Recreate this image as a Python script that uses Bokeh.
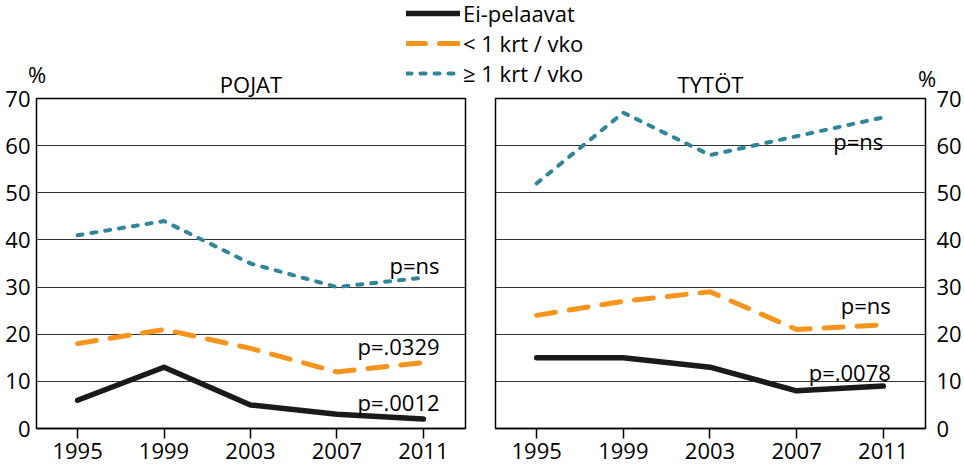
from bokeh.plotting import figure
from bokeh.layouts import column, row
from bokeh.models import Range1d, FixedTicker, Legend, LegendItem, Label
from bokeh.core.properties import value
from bokeh.embed import file_html
from bokeh.resources import INLINE

# ---- data ----
years = [1995, 1999, 2003, 2007, 2011]
series_names = ["Ei-pelaavat", "< 1 krt / vko", "\u2265 1 krt / vko"]
pojat_ei = [6, 13, 5, 3, 2]
pojat_lt1 = [18, 21, 17, 12, 14]
pojat_ge1 = [41, 44, 35, 30, 32]
tytot_ei = [15, 15, 13, 8, 9]
tytot_lt1 = [24, 27, 29, 21, 22]
tytot_ge1 = [52, 67, 58, 62, 66]
y_ticks = [0, 10, 20, 30, 40, 50, 60, 70]
grid_ticks = [10, 20, 30, 40, 50, 60]
panel_titles = ["POJAT", "TYT\u00d6T"]
unit_label = "%"
pojat_p_text = ["p=ns", "p=.0329", "p=.0012"]
pojat_p_x = [2011.75, 2011.75, 2011.75]
pojat_p_y = [34.6, 17.6, 5.7]
tytot_p_text = ["p=ns", "p=ns", "p=.0078"]
tytot_p_x = [2011.0, 2011.35, 2011.35]
tytot_p_y = [60.9, 26.1, 11.9]

FONT = "Open Sans"
FS = "22px"
BLACK = "#1a1a1a"
ORANGE = "#F7941D"
TEAL = "#2F869B"

STYLES = [
    dict(line_color=BLACK, line_width=5.5, line_cap="round", line_join="round"),
    dict(line_color=ORANGE, line_width=5, line_dash="19 14", line_cap="round", line_join="round"),
    dict(line_color=TEAL, line_width=4, line_dash="5 9", line_cap="round", line_join="round"),
]

TOP_H = 94
OVERLAP = 34
PANEL_H = 466 - TOP_H + OVERLAP


def make_panel(title, series, p_text, p_x, p_y, side, width, bl, br, y_standoff):
    p = figure(width=width, height=PANEL_H,
               x_range=Range1d(1993.1, 2012.95), y_range=Range1d(0, 70),
               output_backend="svg", toolbar_location=None,
               y_axis_location=side,
               min_border_left=bl, min_border_right=br,
               min_border_top=38, min_border_bottom=38)
    p.outline_line_color = "black"
    p.outline_line_width = 1.5
    p.background_fill_color = "white"
    p.border_fill_color = None

    p.title.text = title
    p.title.align = "center"
    p.title.text_font = FONT
    p.title.text_font_size = FS
    p.title.text_font_style = "normal"
    p.title.text_color = "black"
    p.title.standoff = 0

    xa = p.xaxis[0]
    xa.ticker = FixedTicker(ticks=years)
    xa.major_tick_out = 10
    xa.major_tick_in = 0
    xa.minor_tick_out = 0
    xa.minor_tick_in = 0
    xa.major_tick_line_color = "black"
    xa.major_tick_line_width = 1.5
    xa.axis_line_color = "black"
    xa.axis_line_width = 1.5
    xa.major_label_text_font = FONT
    xa.major_label_text_font_size = FS
    xa.major_label_text_color = "black"
    xa.major_label_standoff = 4

    ya = p.yaxis[0]
    ya.ticker = FixedTicker(ticks=y_ticks)
    ya.major_tick_out = 0
    ya.major_tick_in = 0
    ya.minor_tick_out = 0
    ya.minor_tick_in = 0
    ya.axis_line_color = None
    ya.major_label_text_font = FONT
    ya.major_label_text_font_size = FS
    ya.major_label_text_color = "black"
    ya.major_label_standoff = y_standoff

    p.xgrid.visible = False
    p.ygrid.ticker = FixedTicker(ticks=grid_ticks)
    p.ygrid.grid_line_color = "#333333"
    p.ygrid.grid_line_width = 1.2

    for vals, st in zip(series, STYLES):
        p.line(years, vals, **st)

    p.text(x=p_x, y=p_y, text=p_text, text_align="right", text_baseline="middle",
           text_font=value(FONT), text_font_size=FS, text_color="black")
    return p


left = make_panel(panel_titles[0], [pojat_ei, pojat_lt1, pojat_ge1],
                  pojat_p_text, pojat_p_x, pojat_p_y,
                  "left", 480, 36, 15, 6)
right = make_panel(panel_titles[1], [tytot_ei, tytot_lt1, tytot_ge1],
                   tytot_p_text, tytot_p_x, tytot_p_y,
                   "right", 484, 15, 39, 11)

# ---- top strip: legend and unit labels ----
top = figure(width=964, height=TOP_H, x_range=Range1d(0, 964), y_range=Range1d(TOP_H, 0),
             output_backend="svg", toolbar_location=None,
             x_axis_location=None, y_axis_location=None,
             min_border=0)
top.outline_line_color = None
top.grid.visible = False
top.background_fill_color = "white"
top.border_fill_color = "white"

nan = float("nan")
items = []
for name, st in zip(series_names, STYLES):
    r = top.line([nan, nan], [nan, nan], **st)
    items.append(LegendItem(label=name, renderers=[r]))

legend = Legend(items=items, location=(406, 6),
                padding=0, margin=0, spacing=-2,
                glyph_width=54, glyph_height=22, label_height=22,
                label_standoff=3,
                label_text_font=FONT, label_text_font_size=FS,
                label_text_color="black",
                border_line_color=None, background_fill_alpha=0)
top.add_layout(legend, "center")

for xc, yc in [(36.5, 73.5), (926.5, 77.5)]:
    top.add_layout(Label(x=xc, y=yc, text=unit_label, text_align="center", text_baseline="middle",
                         text_font=FONT, text_font_size=FS, text_color="black"))

panels = row(left, right, spacing=0, margin=(-OVERLAP, 0, 0, 0))
layout = column(top, panels, spacing=0)

open("out.html", "w").write(file_html(layout, INLINE))
